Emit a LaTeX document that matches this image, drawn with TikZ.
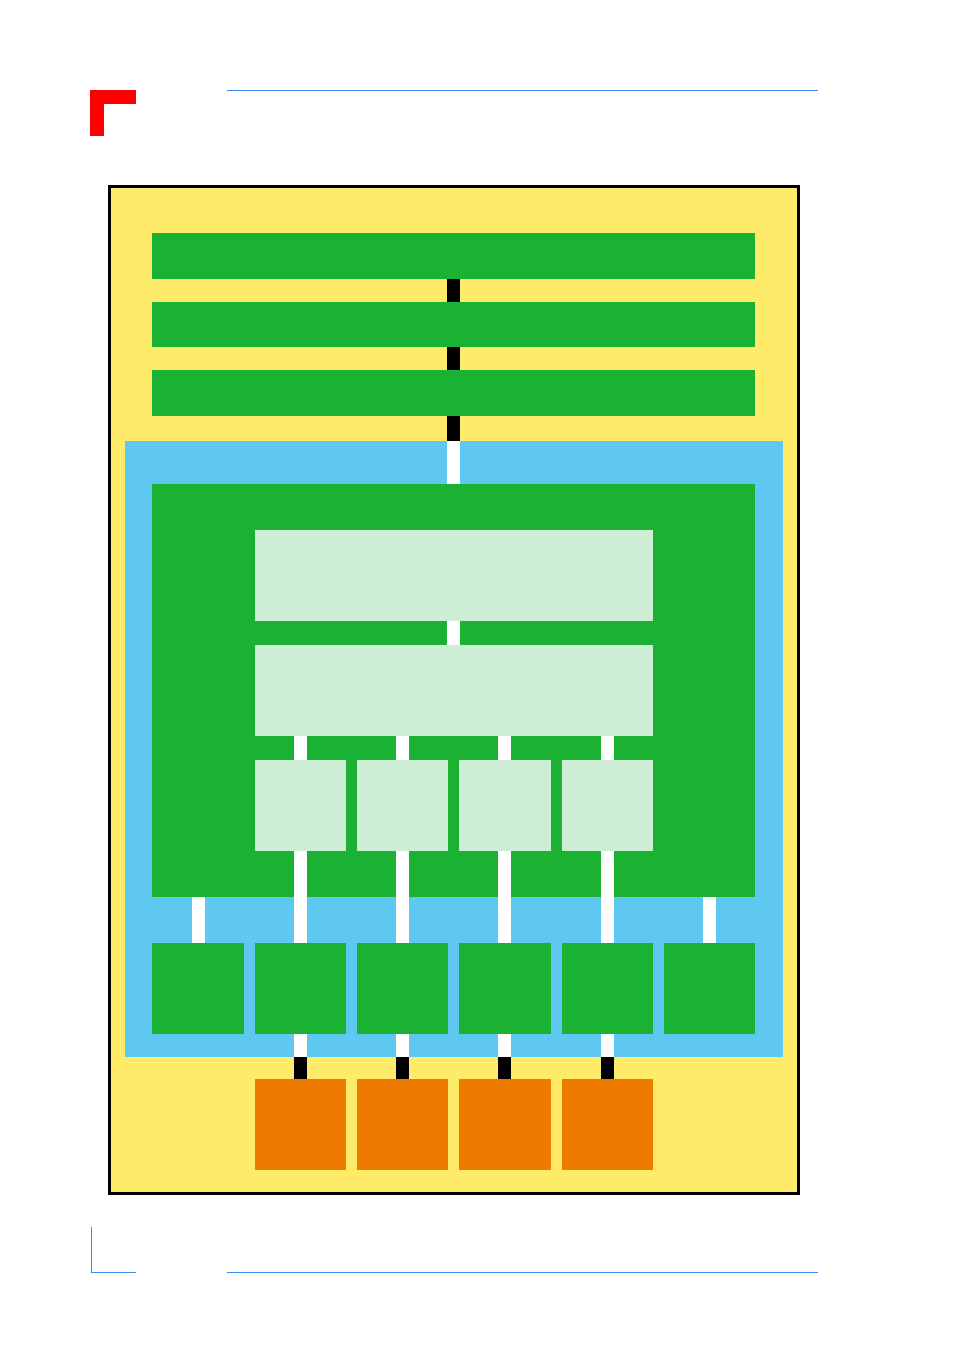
\documentclass[tikz,border=0pt]{standalone}
\definecolor{yel}{HTML}{FFEB6A}
\definecolor{grn}{HTML}{1BB234}
\definecolor{lgr}{HTML}{CDEED4}
\definecolor{sky}{HTML}{5EC8F0}
\definecolor{org}{HTML}{EE7A00}
\definecolor{lblue}{HTML}{3C8CF0}
\begin{document}
\begin{tikzpicture}[x=1pt,y=-1pt,
 wire/.style={fill=white},
 bwire/.style={fill=black}]
\useasboundingbox (0,0) rectangle (954,1351);
% red corner
\fill[red] (90,90) rectangle (136,104);
\fill[red] (90,90) rectangle (104,136);
% blue rules
\draw[lblue,line width=1] (227,91) -- (818,91);
\draw[lblue,line width=1] (227,1272) -- (818,1272);
\draw[lblue,line width=1] (91,1227) -- (91,1272) -- (136,1272);
% outer
\draw[fill=yel,line width=3.5] (109.5,186.5) rectangle (798.5,1193.5);
% top bars
\foreach \a/\b in {233/279,302/347,370/416} \fill[grn] (152,\a) rectangle (755,\b);
\foreach \a/\b in {279/302,347/370,416/441} \fill[black] (447,\a) rectangle (460,\b);
% blue area
\fill[sky] (125,441) rectangle (783,1057);
\fill[wire] (447,441) rectangle (460,484);
\fill[grn] (152,484) rectangle (755,897);
\fill[lgr] (255,530) rectangle (653,621);
\fill[lgr] (255,645) rectangle (653,736);
\fill[wire] (447,621) rectangle (460,645);
\foreach \l/\r in {255/346,357/448,459/551,562/653}{
  \fill[lgr] (\l,760) rectangle (\r,851);
  \fill[org] (\l,1079) rectangle (\r,1170);
}
\foreach \c in {300,402,504,607}{
  \fill[wire] (\c-6.5,736) rectangle (\c+6.5,760);
  \fill[wire] (\c-6.5,851) rectangle (\c+6.5,943);
  \fill[wire] (\c-6.5,1034) rectangle (\c+6.5,1057);
  \fill[black] (\c-6.5,1057) rectangle (\c+6.5,1079);
}
\foreach \c in {198,709} \fill[wire] (\c-6.5,897) rectangle (\c+6.5,943);
\foreach \l/\r in {152/244,255/346,357/448,459/551,562/653,664/755}
  \fill[grn] (\l,943) rectangle (\r,1034);
\end{tikzpicture}
\end{document}
